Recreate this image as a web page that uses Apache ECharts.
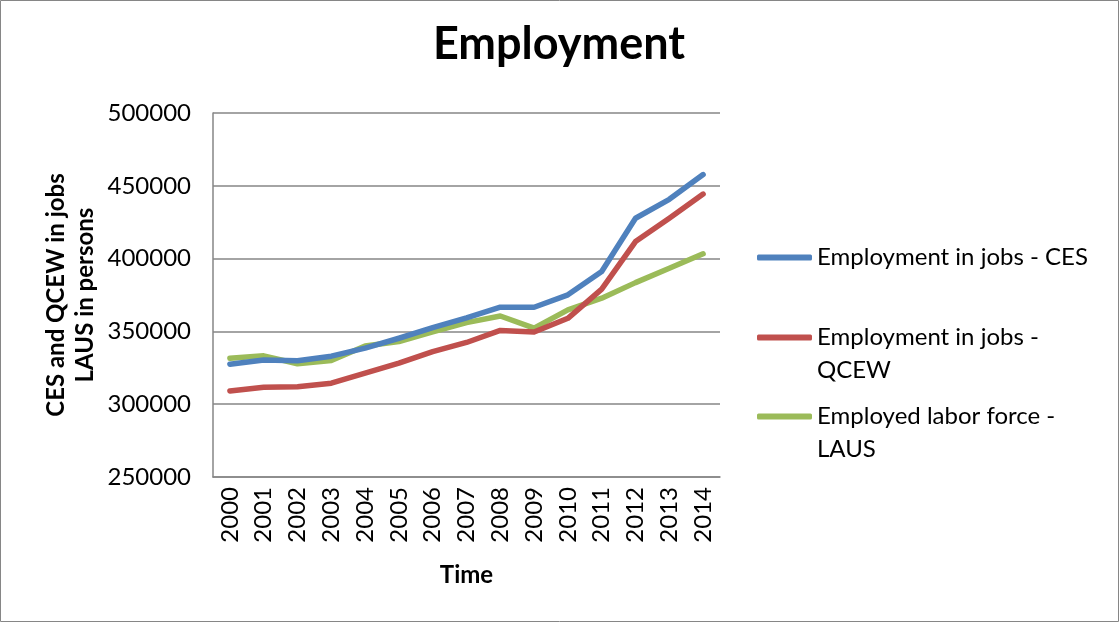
<!DOCTYPE html>
<html>
<head>
<meta charset="utf-8">
<script src="https://cdn.jsdelivr.net/npm/echarts@6/dist/echarts.min.js"></script>
<style>
  html, body { margin: 0; padding: 0; background: #fff; }
  #chart { width: 1120px; height: 623px; }
</style>
</head>
<body>
<div id="chart"></div>
<script>
// Employment series, 2000–2014
const years = ['2000','2001','2002','2003','2004','2005','2006','2007','2008','2009','2010','2011','2012','2013','2014'];
const cesJobs = [327500, 330300, 329800, 333000, 338500, 345300, 352600, 359300, 366600, 366600, 375100, 391100, 427700, 440700, 457700];
const qcewJobs = [309100, 311600, 312000, 314400, 321300, 328200, 336100, 342400, 350700, 349600, 359000, 379000, 411700, 427700, 444300];
const lausEmployed = [331600, 333200, 327800, 330000, 340000, 343000, 349700, 356000, 360600, 352200, 364800, 372800, 383500, 393400, 403300];
const yTicks = { min: 250000, max: 500000, step: 50000 };

const seriesNames = ['Employment in jobs - CES', 'Employment in jobs - QCEW', 'Employed labor force - LAUS'];
const legendTexts = ['Employment in jobs - CES', 'Employment in jobs -\nQCEW', 'Employed labor force -\nLAUS'];
const seriesColors = ['#4F81BD', '#C0504D', '#9BBB59'];
const seriesData = [cesJobs, qcewJobs, lausEmployed];

const FONT = 'Lato, "Open Sans", sans-serif';
const LH = 33;

const chart = echarts.init(document.getElementById('chart'), null, { renderer: 'canvas' });

// One legend block per series; wrapped labels get an empty leading line so
// the swatch lines up with the first line of text.
function legendBlock(i, top) {
  const wrapped = legendTexts[i].indexOf('\n') >= 0;
  return {
    data: [seriesNames[i]],
    orient: 'vertical',
    left: 757,
    top: top,
    padding: 0,
    icon: 'roundRect',
    itemWidth: 55,
    itemHeight: 6,
    itemGap: 0,
    selectedMode: false,
    formatter: () => (wrapped ? ' \n' : '') + legendTexts[i],
    textStyle: {
      fontFamily: FONT,
      fontSize: 24,
      color: '#000',
      lineHeight: LH
    }
  };
}

chart.setOption({
  animation: false,
  backgroundColor: '#fff',
  title: {
    text: 'Employment',
    left: 559,
    textAlign: 'center',
    top: 22,
    padding: 0,
    textStyle: { fontFamily: FONT, fontWeight: 'bold', fontSize: 45, color: '#000' }
  },
  graphic: [{
    type: 'rect',
    shape: { x: 0.5, y: 0.5, width: 1118, height: 621 },
    style: { fill: 'none', stroke: '#868686', lineWidth: 1 },
    silent: true
  }],
  legend: [
    legendBlock(0, 241),
    legendBlock(1, 288),
    legendBlock(2, 367)
  ],
  grid: { left: 213, right: 400, top: 113, bottom: 146, containLabel: false },
  xAxis: {
    type: 'category',
    data: years,
    boundaryGap: true,
    name: 'Time',
    nameLocation: 'middle',
    nameGap: 86,
    nameTextStyle: { fontFamily: FONT, fontWeight: 'bold', fontSize: 24, color: '#000' },
    axisLine: { show: true, lineStyle: { color: '#868686', width: 1.5 } },
    axisTick: { show: false },
    axisLabel: { rotate: 90, margin: 10, fontFamily: FONT, fontSize: 24, color: '#000' },
    splitLine: { show: false }
  },
  yAxis: {
    type: 'value',
    min: yTicks.min,
    max: yTicks.max,
    interval: yTicks.step,
    name: 'CES and QCEW in jobs\nLAUS in persons',
    nameLocation: 'middle',
    nameRotate: 90,
    nameGap: 113,
    nameTextStyle: { fontFamily: FONT, fontWeight: 'bold', fontSize: 24, color: '#000', lineHeight: 29 },
    axisLine: { show: true, lineStyle: { color: '#868686', width: 1.5 } },
    axisTick: { show: false },
    axisLabel: { margin: 22, fontFamily: FONT, fontSize: 24, color: '#000', formatter: (v) => String(v) },
    splitLine: { show: true, lineStyle: { color: '#868686', width: 1.5 } }
  },
  series: seriesData.map((d, i) => ({
    name: seriesNames[i],
    type: 'line',
    data: d,
    showSymbol: false,
    symbol: 'none',
    lineStyle: { color: seriesColors[i], width: 5.5, cap: 'round', join: 'round' },
    itemStyle: { color: seriesColors[i] },
    z: 3 - i
  }))
});
</script>
</body>
</html>
